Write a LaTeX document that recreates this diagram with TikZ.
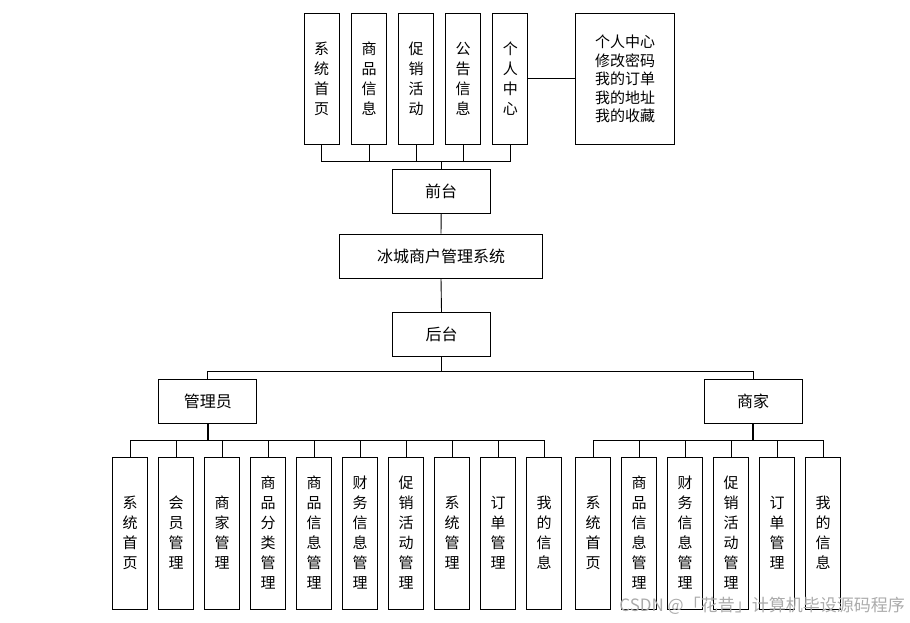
\documentclass[tikz,border=0pt]{standalone}
\usepackage{fontspec}
\setmainfont{Noto Sans CJK SC}
\newfontfamily\cjk{Noto Sans CJK SC}
\begin{document}
\begin{tikzpicture}[x=1pt,y=-1pt,
  every node/.style={font=\cjk\fontsize{15}{20}\selectfont},
  vbox/.style={draw, line width=0.9pt, inner sep=0pt, minimum width=35pt, minimum height=131pt, align=center},
  cbox/.style={draw, line width=0.9pt, inner sep=0pt, minimum width=35pt, minimum height=152pt, align=center},
  hbox/.style={draw, line width=0.9pt, inner sep=0pt, minimum width=98pt, minimum height=44pt, font=\cjk\fontsize{16}{20}\selectfont},
  conn/.style={line width=0.9pt},
  thick conn/.style={line width=2pt}]
\useasboundingbox (0,0) rectangle (910,622);
% top level
\node[vbox] (t1) at (321.7,78.8) {系\\统\\首\\页};
\node[vbox] (t2) at (369,78.8) {商\\品\\信\\息};
\node[vbox] (t3) at (416.1,78.8) {促\\销\\活\\动};
\node[vbox] (t4) at (463.2,78.8) {公\\告\\信\\息};
\node[vbox] (t5) at (510.3,78.8) {个\\人\\中\\心};
\node[draw, line width=0.9pt, inner sep=0pt, minimum width=98.6pt, minimum height=131pt] (pc) at (625,78.8) {};
\node[align=left, inner sep=0pt, font=\cjk\fontsize{15}{18.5}\selectfont] (pct) at (625,79) {个人中心\\修改密码\\我的订单\\我的地址\\我的收藏};
\node[hbox] (qt) at (441.2,191.3) {前台};
\node[hbox, minimum width=203pt] (sys) at (441,256) {冰城商户管理系统};
\node[hbox] (ht) at (441.5,334.2) {后台};
\node[hbox, minimum height=43.5pt] (adm) at (207.8,401.3) {管理员};
\node[hbox] (mer) at (753,401.2) {商家};
% admin children
\foreach \n/\t [count=\i from 0] in {a1/{系\\统\\首\\页},a2/{会\\员\\管\\理},a3/{商\\家\\管\\理},a4/{商\\品\\分\\类\\管\\理},a5/{商\\品\\信\\息\\管\\理},a6/{财\\务\\信\\息\\管\\理},a7/{促\\销\\活\\动\\管\\理},a8/{系\\统\\管\\理},a9/{订\\单\\管\\理},a10/{我\\的\\信\\息}}
  \node[cbox] (\n) at (130.2+46*\i,533) {\t};
% merchant children
\foreach \n/\t [count=\i from 0] in {m1/{系\\统\\首\\页},m2/{商\\品\\信\\息\\管\\理},m3/{财\\务\\信\\息\\管\\理},m4/{促\\销\\活\\动\\管\\理},m5/{订\\单\\管\\理},m6/{我\\的\\信\\息}}
  \node[cbox] (\n) at (593.2+46*\i,533) {\t};
% bus coordinates
\coordinate (tb) at (441.2,161.3);
\coordinate (hb) at (441.5,371.5);
\coordinate (ab) at (207.8,440);
\coordinate (mb) at (753,440);
% connectors
\foreach \n in {t1,t2,t3,t4,t5} \draw[conn] (\n.south) |- (tb);
\draw[conn] (tb) -- (qt.north);
\draw[conn] (t5.east) -- (pc.west);
\draw[conn] (qt.south) -- (sys.north);
\draw[conn] (sys.south) -- (ht.north);
\draw[conn] (ht.south) -- (hb);
\draw[conn] (hb) -| (adm.north);
\draw[conn] (hb) -| (mer.north);
\draw[thick conn] (adm.south) -- (ab);
\draw[thick conn] (mer.south) -- (mb);
\foreach \n in {a1,a2,a3,a4,a5,a6,a7,a8,a9,a10} \draw[conn] (ab) -| (\n.north);
\foreach \n in {m1,m2,m3,m4,m5,m6} \draw[conn] (mb) -| (\n.north);
% watermark
\node[anchor=east, text=black!33, inner sep=0pt, font=\cjk\fontsize{17}{18}\selectfont] (wm) at (905,606) {CSDN @「花昔」计算机毕设源码程序};
\end{tikzpicture}
\end{document}
